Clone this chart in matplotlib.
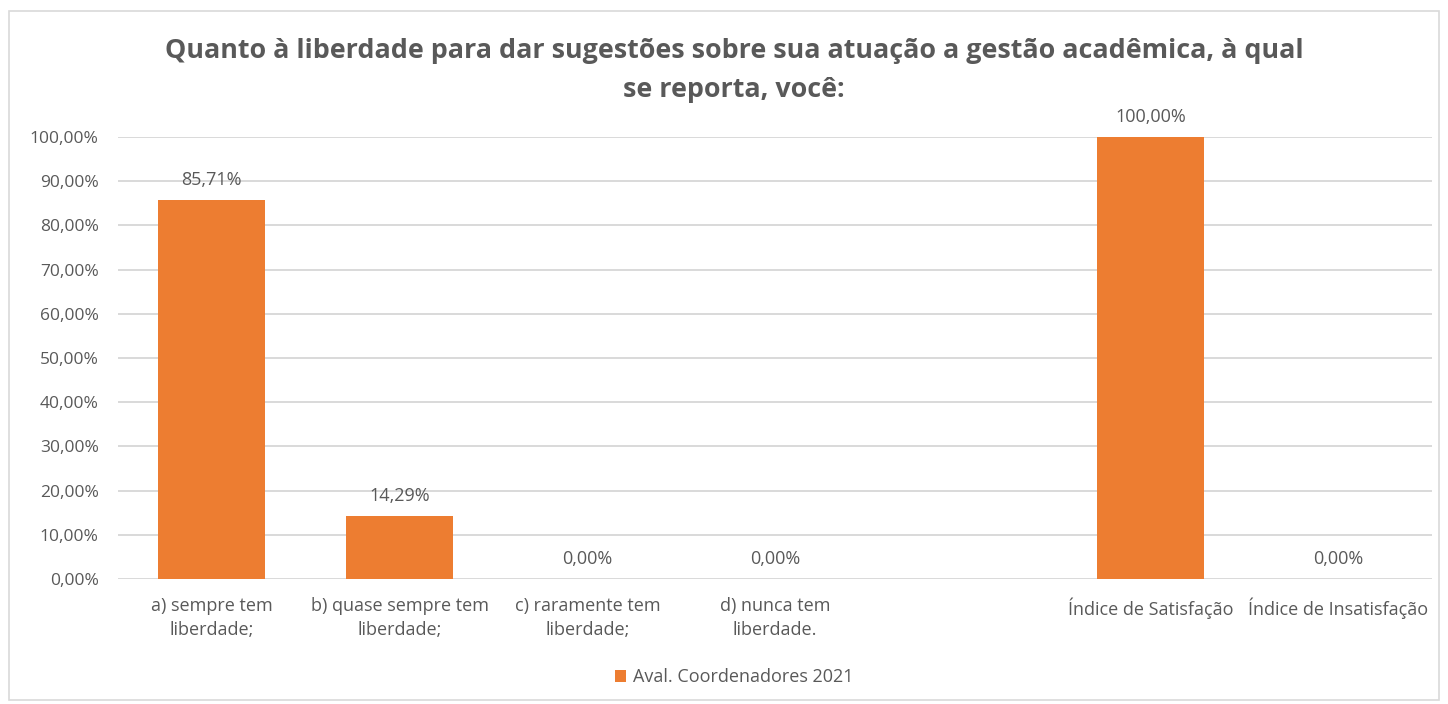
import numpy as np
import matplotlib.pyplot as plt
from matplotlib.patches import Rectangle

# Data
categories = [
    "a) sempre tem\nliberdade;",
    "b) quase sempre tem\nliberdade;",
    "c) raramente tem\nliberdade;",
    "d) nunca tem\nliberdade.",
    "",
    "Índice de Satisfação",
    "Índice de Insatisfação",
]
values = [0.8571, 0.1429, 0.0, 0.0, np.nan, 1.0, 0.0]
series_name = "Aval. Coordenadores 2021"
title = "Quanto à liberdade para dar sugestões sobre sua atuação a gestão acadêmica, à qual\nse reporta, você:"

BAR_COLOR = "#ED7D31"
TEXT_COLOR = "#595959"
GRID_COLOR = "#D9D9D9"

plt.rcParams["font.family"] = ["Open Sans", "DejaVu Sans"]


def pct(v):
    return f"{v * 100:.2f}%".replace(".", ",")


fig = plt.figure(figsize=(14.48, 7.04), dpi=100)
ax = fig.add_axes([0.0815, 0.1776, 0.9075, 0.6278])

x = np.arange(len(categories))
heights = np.nan_to_num(values)
ax.bar(x, heights, width=0.57, color=BAR_COLOR, label=series_name, zorder=3)

# Data labels
for xi, v in zip(x, values):
    if np.isnan(v):
        continue
    ax.annotate(pct(v), (xi, v), xytext=(0, 8), textcoords="offset points",
                ha="center", va="bottom", fontsize=13, color=TEXT_COLOR)

ax.set_xlim(-0.5, len(categories) - 0.5)
ax.set_ylim(0, 1.0)
yticks = np.arange(0, 1.01, 0.1)
ax.set_yticks(yticks)
ax.set_yticklabels([pct(t) for t in yticks], fontsize=12.5, color=TEXT_COLOR)
ax.set_xticks(x)
ax.set_xticklabels(categories, fontsize=13, color=TEXT_COLOR, linespacing=1.4)
ax.tick_params(axis="both", length=0)
ax.tick_params(axis="x", pad=13)
ax.tick_params(axis="y", pad=14)

ax.grid(axis="y", color=GRID_COLOR, linewidth=1.4, zorder=0)
for s in ax.spines.values():
    s.set_visible(False)

fig.suptitle(title, x=0.507, y=0.946, fontsize=19.4, fontweight="bold",
             color=TEXT_COLOR, linespacing=1.65)

fig.legend(loc="center", bbox_to_anchor=(0.507, 0.038), frameon=False,
           fontsize=13, labelcolor=TEXT_COLOR, handlelength=0.6, handleheight=0.6,
           handletextpad=0.4)

# Chart frame
fig.patches.append(Rectangle((0.006, 0.005), 0.988, 0.98, transform=fig.transFigure,
                             fill=False, edgecolor=GRID_COLOR, linewidth=1.2))

fig.savefig("out.png", dpi=100)
